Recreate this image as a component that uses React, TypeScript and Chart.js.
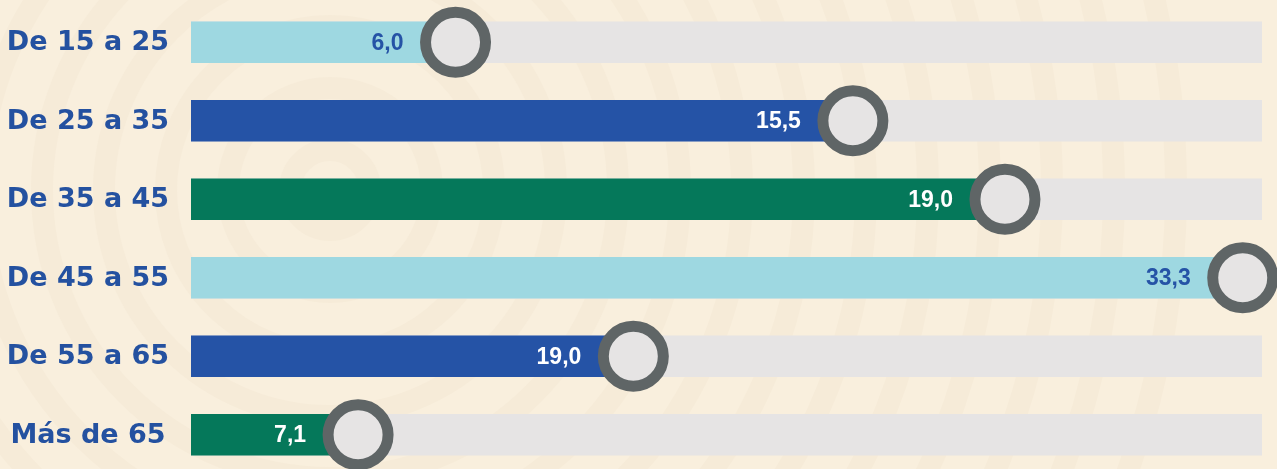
import React, { useEffect, useRef } from "react";
import { Chart, registerables } from "chart.js";

Chart.register(...registerables);

const categories = ["De 15 a 25", "De 25 a 35", "De 35 a 45", "De 45 a 55", "De 55 a 65", "Más de 65"];
// printed values
const valueLabels = ["6,0", "15,5", "19,0", "33,3", "19,0", "7,1"];
// bar extent, in % of the full track
const barExtent = [24.7, 61.8, 76.0, 98.2, 41.3, 15.6];
const trackFull = [100, 100, 100, 100, 100, 100];
const barColors = ["#9ED8E1", "#2553A6", "#05785A", "#9ED8E1", "#2553A6", "#05785A"];
const labelColors = ["#2553A6", "#FFFFFF", "#FFFFFF", "#2553A6", "#FFFFFF", "#FFFFFF"];

const BG = "#F9EFDD";

const backgroundPlugin = {
  id: "bgPattern",
  beforeDraw(chart: any) {
    const { ctx, width, height } = chart;
    ctx.save();
    ctx.fillStyle = BG;
    ctx.fillRect(0, 0, width, height);
    ctx.strokeStyle = "#F6EBD8";
    ctx.lineWidth = 22;
    for (let r = 40; r < 900; r += 62) {
      ctx.beginPath();
      ctx.arc(330, 190, r, 0, Math.PI * 2);
      ctx.stroke();
    }
    ctx.restore();
  },
};

const categoryLabelPlugin = {
  id: "categoryLabels",
  afterDraw(chart: any) {
    const y = chart.scales.y;
    const ctx = chart.ctx;
    ctx.save();
    ctx.font = "bold 27px 'DejaVu Sans', sans-serif";
    ctx.fillStyle = "#2451A0";
    ctx.textAlign = "center";
    ctx.textBaseline = "middle";
    categories.forEach((c, i) => {
      ctx.fillText(c, 88, y.getPixelForValue(i) + 1);
    });
    ctx.restore();
  },
};

const valueLabelPlugin = {
  id: "valueLabels",
  afterDatasetsDraw(chart: any) {
    const meta = chart.getDatasetMeta(1);
    const ctx = chart.ctx;
    ctx.save();
    ctx.font = "bold 23px 'Liberation Sans', Arial, sans-serif";
    ctx.textAlign = "right";
    ctx.textBaseline = "middle";
    meta.data.forEach((bar: any, i: number) => {
      ctx.fillStyle = labelColors[i];
      ctx.fillText(valueLabels[i], bar.x - 52, bar.y + 1);
    });
    ctx.restore();
  },
};

export default function App() {
  const ref = useRef<HTMLCanvasElement | null>(null);
  useEffect(() => {
    document.body.style.margin = "0";
    document.body.style.overflow = "hidden";
    document.body.style.background = BG;
    const chart = new Chart(ref.current as HTMLCanvasElement, {
      type: "bar",
      data: {
        labels: categories,
        datasets: [
          {
            type: "line",
            data: barExtent,
            indexAxis: "y",
            showLine: false,
            pointRadius: 30,
            pointHoverRadius: 30,
            pointBorderWidth: 11,
            pointBorderColor: "#5F6566",
            pointBackgroundColor: "#E6E4E4",
            order: 0,
            clip: false,
          } as any,
          {
            data: barExtent,
            backgroundColor: barColors,
            barThickness: 41,
            grouped: false,
            order: 1,
          },
          {
            data: trackFull,
            backgroundColor: "#E6E4E4",
            barThickness: 41,
            grouped: false,
            order: 2,
          },
        ],
      },
      options: {
        indexAxis: "y",
        animation: false,
        responsive: true,
        maintainAspectRatio: false,
        layout: { autoPadding: false, padding: { top: 3, bottom: 0, left: 0, right: 15 } },
        plugins: { legend: { display: false }, tooltip: { enabled: false } },
        scales: {
          x: { display: false, min: 0, max: 100 },
          y: {
            grid: { display: false },
            border: { display: false },
            ticks: { display: false, padding: 0 },
            afterFit(scale: any) {
              scale.width = 191;
              scale.paddingTop = 0;
              scale.paddingBottom = 0;
            },
          },
        },
      },
      plugins: [backgroundPlugin, valueLabelPlugin, categoryLabelPlugin],
    } as any);
    return () => chart.destroy();
  }, []);
  return (
    <div style={{ position: "fixed", left: 0, top: 0, width: 1277, height: 469, overflow: "hidden", background: BG }}>
      <div style={{ position: "absolute", left: 0, top: 0, width: 1277, height: 474 }}>
        <canvas ref={ref} />
      </div>
    </div>
  );
}
